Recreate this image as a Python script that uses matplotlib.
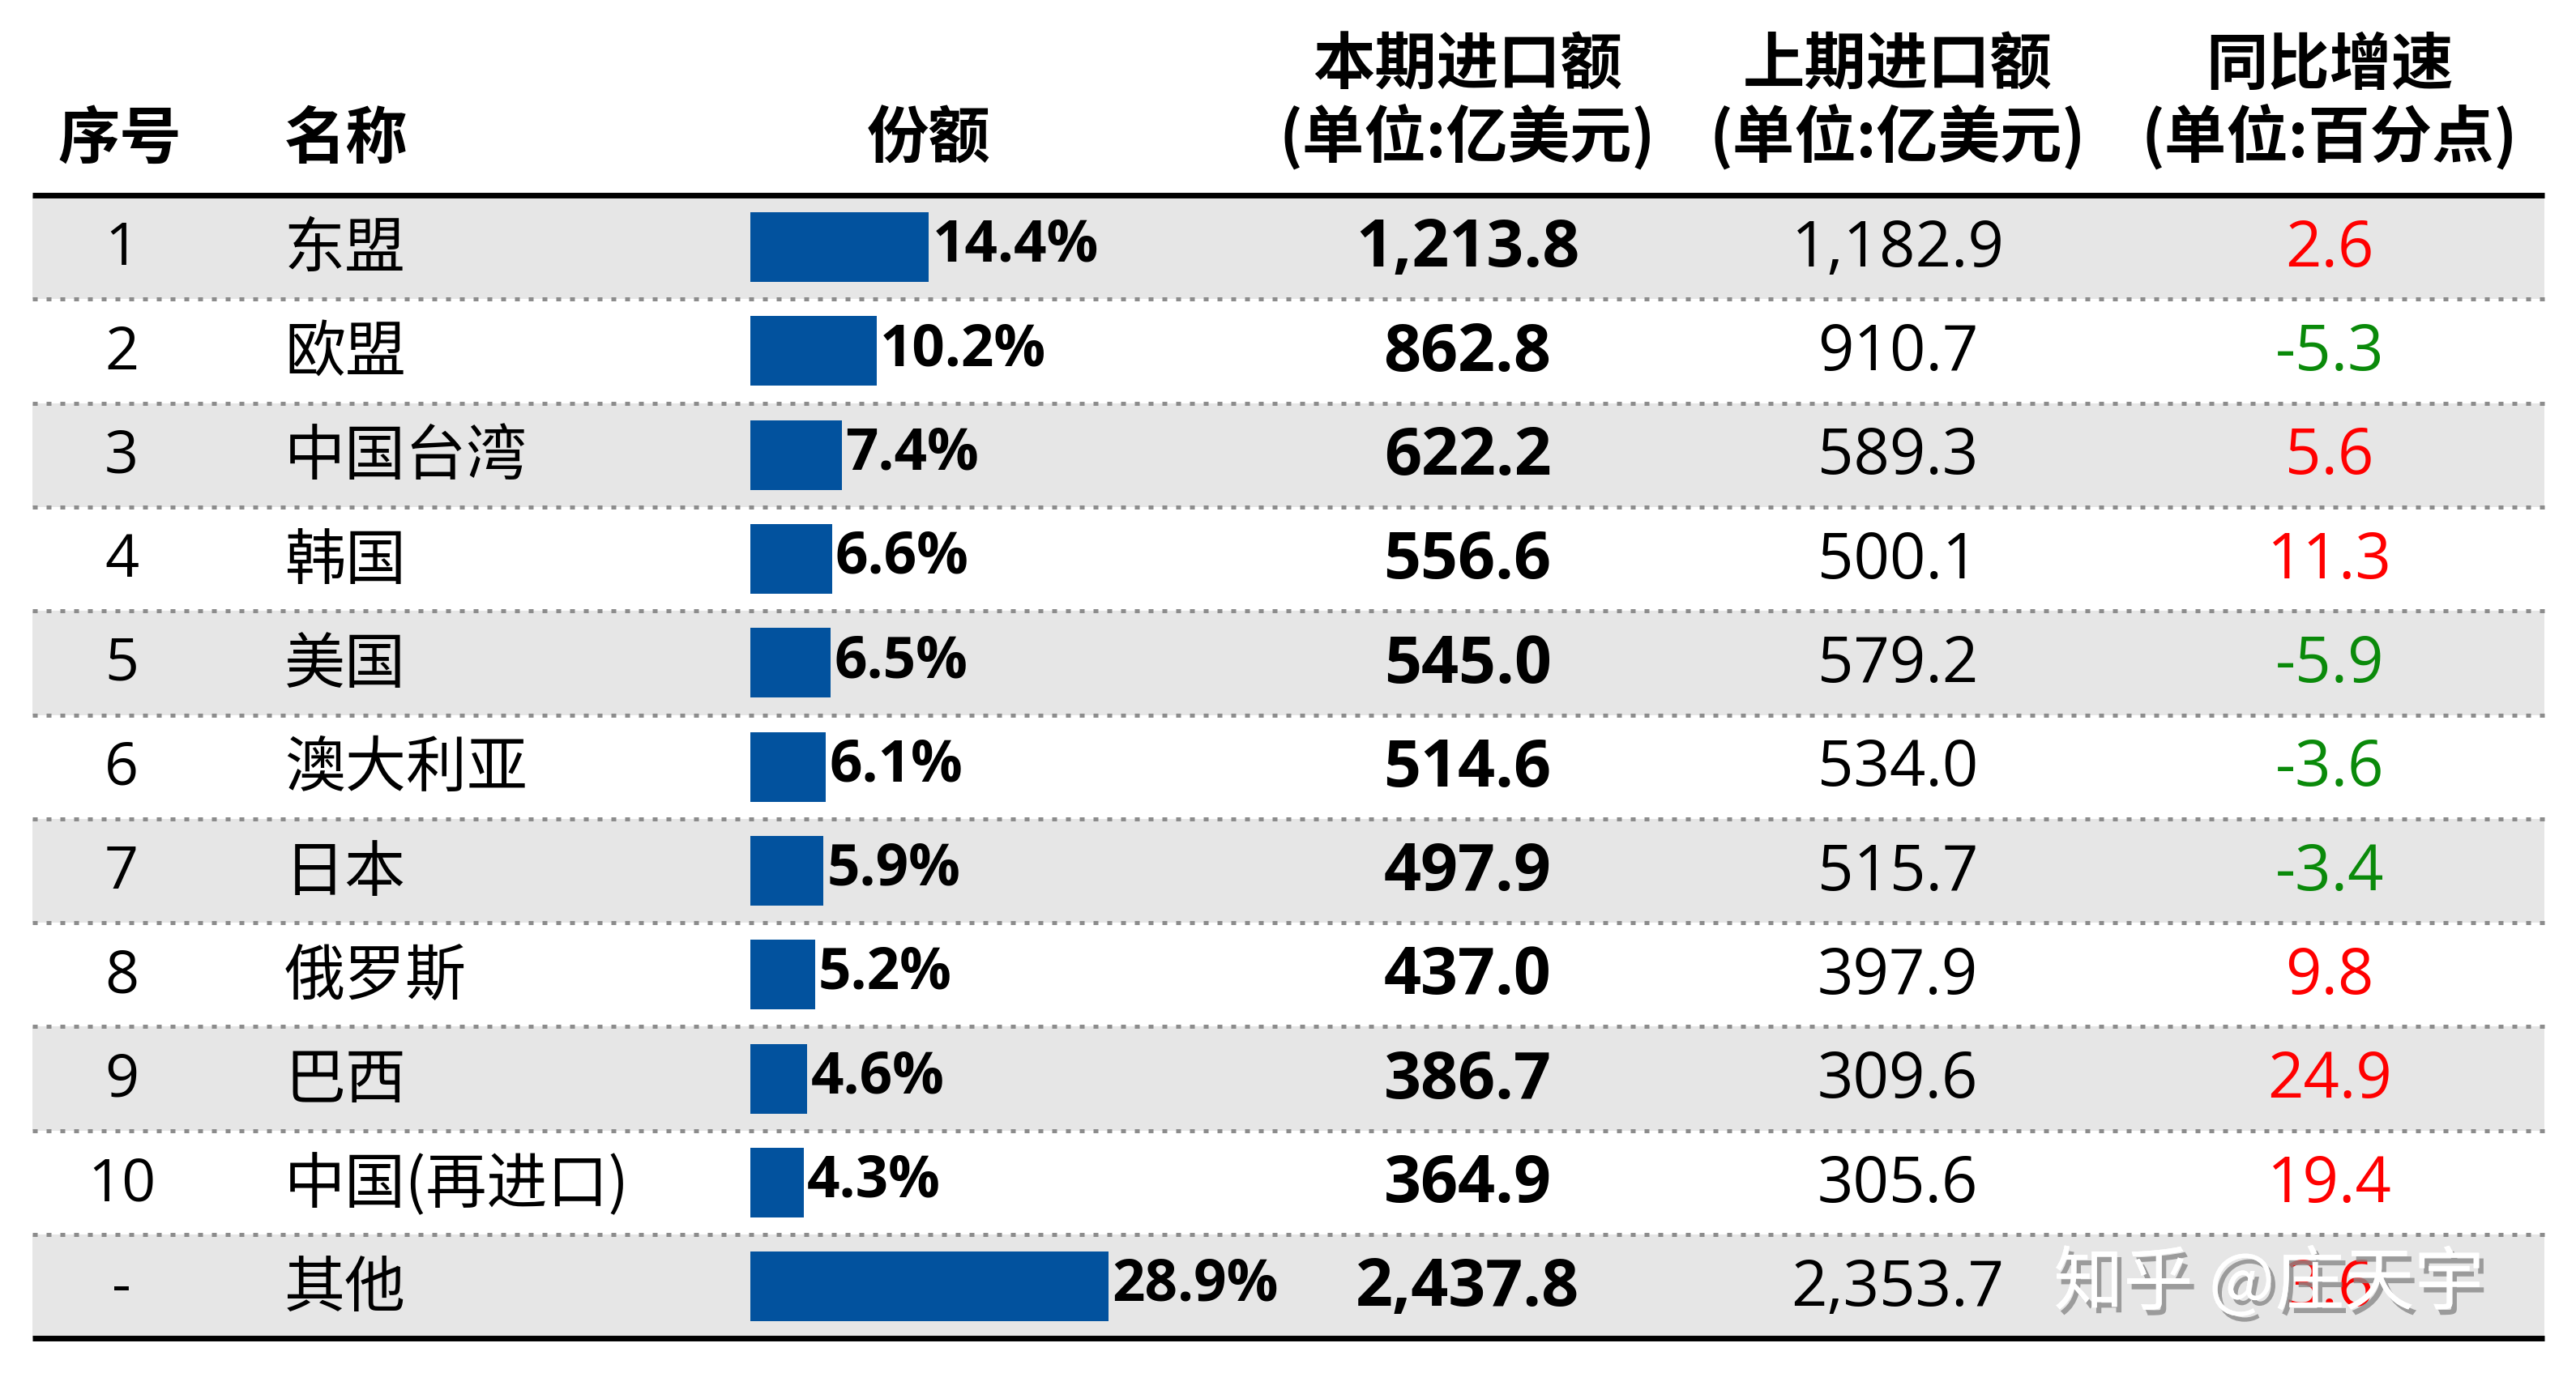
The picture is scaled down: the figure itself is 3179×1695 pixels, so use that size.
import matplotlib.pyplot as plt
import matplotlib.patheffects as pe

# 数据
ranks = ['1', '2', '3', '4', '5', '6', '7', '8', '9', '10', '-']
names = ['东盟', '欧盟', '中国台湾', '韩国', '美国', '澳大利亚', '日本', '俄罗斯', '巴西', '中国(再进口)', '其他']
shares = [14.4, 10.2, 7.4, 6.6, 6.5, 6.1, 5.9, 5.2, 4.6, 4.3, 28.9]
current = [1213.8, 862.8, 622.2, 556.6, 545.0, 514.6, 497.9, 437.0, 386.7, 364.9, 2437.8]
previous = [1182.9, 910.7, 589.3, 500.1, 579.2, 534.0, 515.7, 397.9, 309.6, 305.6, 2353.7]
growth = [2.6, -5.3, 5.6, 11.3, -5.9, -3.6, -3.4, 9.8, 24.9, 19.4, 3.6]
headers = ['序号', '名称', '份额', '本期进口额\n(单位:亿美元)', '上期进口额\n(单位:亿美元)', '同比增速\n(单位:百分点)']

CJK = ['Noto Sans CJK SC', 'DejaVu Sans']
NUM = ['Open Sans', 'Noto Sans CJK SC', 'DejaVu Sans']

W, H = 3179, 1695
row_h = 128.3
top = 241
fig = plt.figure(figsize=(W / 100, H / 100), dpi=100)
ax = fig.add_axes([0, 0, 1, 1])
ax.set_xlim(0, W)
ax.set_ylim(10.5 + (H - top - 11 * row_h) / row_h, -0.5 - top / row_h)
ax.axis('off')

x_left, x_right = 40, 3140
x_rank, x_name, x_bar = 150, 351, 926
x_cur, x_prev, x_gr = 1811, 2342, 2875
px_per_pct = 15.3
n = len(names)
dy = 0.025  # 文字略下移

# 背景条纹
for i in range(0, n, 2):
    ax.axhspan(i - 0.5, i + 0.5, xmin=x_left / W, xmax=x_right / W, color='#e6e6e6', lw=0, zorder=0)

# 分隔线
for i in range(n - 1):
    ax.hlines(i + 0.5, x_left, x_right, colors='#8c8c8c', lw=3.6,
              linestyles=(0, (1.2, 2.2)), zorder=1)
ax.hlines([-0.5, n - 0.5], x_left, x_right, colors='black', lw=5, zorder=2)

# 份额条
widths = [s * px_per_pct for s in shares]
ax.barh(range(n), widths, left=x_bar, height=0.67, color='#02529E', zorder=3)
for i, (s, w) in enumerate(zip(shares, widths)):
    ax.text(x_bar + w + 4, i - 0.01, f'{s:.1f}%', ha='left', va='center',
            fontsize=51, fontweight='bold', family=NUM, zorder=4)

# 表头
hx = [148, 351, 1146, x_cur, x_prev, x_gr]
has = ['center', 'left', 'center', 'center', 'center', 'center']
for x, h, a in zip(hx, headers, has):
    ax.text(x, -0.5 - 30 / row_h, h, ha=a, va='bottom', fontsize=55,
            fontweight='bold', family=CJK, linespacing=1.15)

# 数据行
for i in range(n):
    y = i + dy
    ax.text(x_rank, y, ranks[i], ha='center', va='center', fontsize=53, family=NUM)
    ax.text(x_name, y, names[i], ha='left', va='center', fontsize=54, family=CJK)
    ax.text(x_cur, y, f'{current[i]:,.1f}', ha='center', va='center',
            fontsize=58, fontweight='bold', family=NUM)
    ax.text(x_prev, y, f'{previous[i]:,.1f}', ha='center', va='center',
            fontsize=56, family=NUM)
    color = '#ff0000' if growth[i] >= 0 else '#0a8a0a'
    ax.text(x_gr, y, f'{growth[i]:.1f}', ha='center', va='center',
            fontsize=56, family=NUM, color=color)

# 水印
ax.text(2800, n - 1 - 0.02, '知乎 @庄天宇', ha='center', va='center', fontsize=62,
        family=CJK, color='white', zorder=6,
        path_effects=[pe.withSimplePatchShadow(offset=(4, -5), shadow_rgbFace='#888888', alpha=0.8),
                      pe.Normal()])

fig.savefig('out.png', dpi=100)
